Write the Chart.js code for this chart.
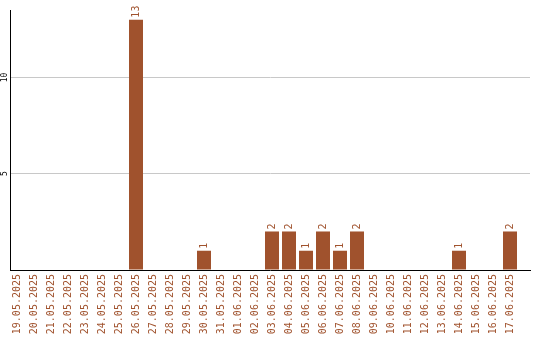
<!DOCTYPE html>
<html>
<head>
<meta charset="utf-8">
<script src="https://cdn.jsdelivr.net/npm/chart.js@4.4.1/dist/chart.umd.min.js"></script>
<style>
html,body{margin:0;padding:0;background:#fff;}
canvas{display:block;}
</style>
</head>
<body>
<canvas id="c" width="540" height="340"></canvas>
<script>
const categories = ["19.05.2025","20.05.2025","21.05.2025","22.05.2025","23.05.2025","24.05.2025","25.05.2025","26.05.2025","27.05.2025","28.05.2025","29.05.2025","30.05.2025","31.05.2025","01.06.2025","02.06.2025","03.06.2025","04.06.2025","05.06.2025","06.06.2025","07.06.2025","08.06.2025","09.06.2025","10.06.2025","11.06.2025","12.06.2025","13.06.2025","14.06.2025","15.06.2025","16.06.2025","17.06.2025"];
const values = [0,0,0,0,0,0,0,13,0,0,0,1,0,0,0,2,2,1,2,1,2,0,0,0,0,0,1,0,0,2];
const yTicks = [5,10];

const BROWN = '#A0522D';
const MONO = '"DejaVu Sans Mono", "Liberation Mono", monospace';

const dataLabels = {
  id: 'dataLabels',
  afterDatasetsDraw(chart) {
    const ctx = chart.ctx;
    const meta = chart.getDatasetMeta(0);
    ctx.save();
    ctx.font = '10px ' + MONO;
    ctx.fillStyle = BROWN;
    ctx.textAlign = 'left';
    ctx.textBaseline = 'middle';
    meta.data.forEach((bar, i) => {
      const v = values[i];
      if (!v) return;
      ctx.save();
      ctx.translate(bar.x, bar.y - 2);
      ctx.rotate(-Math.PI / 2);
      ctx.fillText(String(v), 0, 0);
      ctx.restore();
    });
    ctx.restore();
  }
};

new Chart(document.getElementById('c'), {
  type: 'bar',
  data: {
    datasets: [{
      data: values.map((v, i) => ({x: i, y: v})),
      backgroundColor: BROWN,
      borderWidth: 0,
      categoryPercentage: 14 / 17,
      barPercentage: 1
    }]
  },
  options: {
    responsive: false,
    animation: false,
    devicePixelRatio: 1,
    layout: {padding: {top: 10, right: 10, left: 0, bottom: 0}},
    plugins: {legend: {display: false}, tooltip: {enabled: false}},
    scales: {
      x: {
        type: 'linear',
        offset: false,
        min: -7 / 17,
        max: -7 / 17 + 520 / 17,
        grid: {display: false, drawTicks: false},
        border: {display: true, color: '#000', width: 1},
        afterFit(scale) { scale.height = 70; scale.paddingLeft = 0; scale.paddingRight = 0; },
        ticks: {
          stepSize: 1,
          includeBounds: false,
          autoSkip: false,
          minRotation: 90,
          maxRotation: 90,
          padding: 4,
          color: BROWN,
          font: {family: MONO, size: 10},
          callback: (v) => Number.isInteger(v) && categories[v] !== undefined ? categories[v] : ''
        }
      },
      y: {
        type: 'linear',
        min: 0,
        max: 13.5,
        grid: {
          drawTicks: false,
          color: (c) => (c.tick && yTicks.includes(c.tick.value)) ? '#c8c8c8' : 'rgba(0,0,0,0)'
        },
        border: {display: true, color: '#000', width: 1},
        afterFit(scale) { scale.width = 10; scale.paddingTop = 0; scale.paddingBottom = 0; },
        ticks: {
          stepSize: 5,
          includeBounds: false,
          minRotation: 90,
          maxRotation: 90,
          crossAlign: 'center',
          padding: 0,
          color: '#000',
          font: {family: MONO, size: 8},
          callback: (v) => yTicks.includes(v) ? String(v) : ''
        }
      }
    }
  },
  plugins: [dataLabels]
});
</script>
</body>
</html>
